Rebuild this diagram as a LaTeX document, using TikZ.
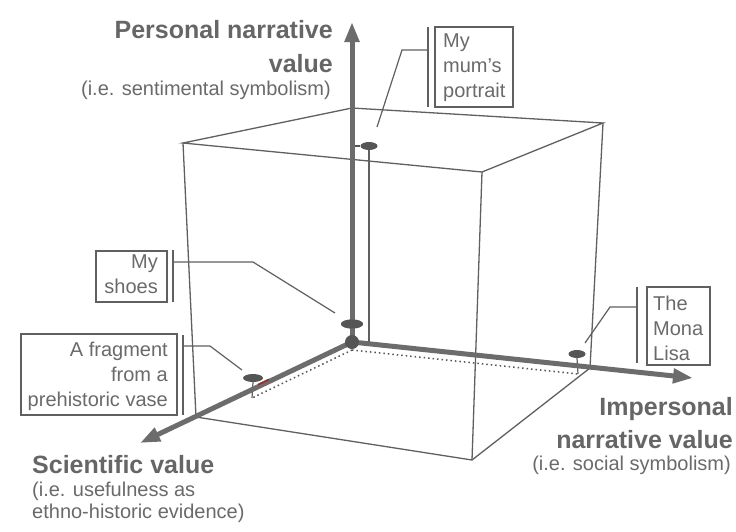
\documentclass[tikz,border=0pt]{standalone}
\usepackage{fontspec}
\setmainfont{Liberation Sans}
\usetikzlibrary{arrows.meta,shapes.geometric}
\definecolor{ink}{HTML}{606060}
\definecolor{txt}{HTML}{6A6A6A}
\definecolor{head}{HTML}{666666}
\definecolor{axisc}{HTML}{6C6C6C}
\definecolor{dotc}{HTML}{555555}
\begin{document}
\begin{tikzpicture}[x=1pt,y=-1pt,
  edge/.style={draw=ink,line width=1.3pt},
  thin/.style={draw=ink,line width=1.2pt},
  dotline/.style={draw=dotc,line width=1.5pt,dash pattern=on 1.5pt off 3pt},
  axisline/.style={draw=axisc,line width=5pt,-{Triangle[length=20pt,width=14pt]}},
  marker/.style={ellipse,fill=dotc,inner sep=0pt},
  boxst/.style={draw=ink,line width=1.3pt,inner sep=0pt},
  bar/.style={draw=ink,line width=1.4pt},
  boxtxt/.style={inner sep=0pt,text=txt,font=\fontsize{20}{25}\selectfont},
  headtxt/.style={inner sep=0pt,text=head,font=\fontsize{25}{33}\selectfont\bfseries},
  subtxt/.style={inner sep=0pt,text=txt,font=\fontsize{20}{22}\selectfont}
]
\useasboundingbox (0,0) rectangle (736,531);
\fill[white] (0,0) rectangle (736,531);

% cube corners
\coordinate (O) at (352,342);
\coordinate (Bt) at (352,108);
\coordinate (Lt) at (183,143);
\coordinate (Ft) at (482,172);
\coordinate (Rt) at (603,123);
\coordinate (Lb) at (196,417);
\coordinate (Fb) at (472,460);
\coordinate (Rb) at (590,368);
% axis tips
\coordinate (PT) at (352,22);
\coordinate (IT) at (693,378);
\coordinate (ST) at (140,443);

% cube
\draw[edge] (Lt) -- (Bt) -- (Rt) -- (Ft) -- cycle;
\draw[edge] (Lt) -- (Lb) -- (Fb) -- (Rb) -- (Rt);
\draw[edge] (Ft) -- (Fb);

% dotted projection lines
\coordinate (D0) at (352,350);
\coordinate (Dv) at (252,398);
\coordinate (Dm) at (578,374);
\draw[dotline] (D0) -- (Dv);
\draw[dotline] (D0) -- (Dm);

% markers
\node[marker,minimum width=17pt,minimum height=8pt] (mportrait) at (369,146) {};
\node[marker,minimum width=22pt,minimum height=9pt] (mshoes) at (352,324) {};
\node[marker,minimum width=20pt,minimum height=8pt] (mvase) at (253,378) {};
\node[marker,minimum width=17pt,minimum height=8pt] (mmona) at (577,354) {};

% drop lines
\coordinate (pdrop) at (369,343);
\draw[thin] (mportrait.south) -- (pdrop);
\draw[line width=1.6pt,draw=dotc] (352,146) -- (mportrait.west);
\draw[thin] (mvase.south) -- (Dv);
\draw[thin] (mmona.south) -- (Dm);

% axes
\draw[axisline] (O) -- (PT);
\draw[axisline] (O) -- (IT);
\draw[axisline] (O) -- (ST);
\draw[line width=1.8pt,draw=red!65!black,opacity=0.6] (258,384.5) -- (269,379.3);
\fill[dotc] (O) circle (7pt);
\node[marker,minimum width=22pt,minimum height=9pt] at (mshoes) {};

% boxes
\node[boxst,minimum width=78pt,minimum height=80pt] (bportrait) at (474,67) {};
\node[boxst,minimum width=71pt,minimum height=51pt] (bshoes) at (131.5,276.5) {};
\node[boxst,minimum width=156pt,minimum height=81pt] (bvase) at (99,374.5) {};
\node[boxst,minimum width=63pt,minimum height=78pt] (bmona) at (678.5,326) {};

% bars
\coordinate (pb1) at (428,27); \coordinate (pb2) at (428,107);
\coordinate (sb1) at (173,250); \coordinate (sb2) at (173,302);
\coordinate (vb1) at (183,335); \coordinate (vb2) at (183,415);
\coordinate (mb1) at (637,287); \coordinate (mb2) at (637,363);
\draw[bar] (pb1) -- (pb2);
\draw[bar] (sb1) -- (sb2);
\draw[bar] (vb1) -- (vb2);
\draw[bar] (mb1) -- (mb2);

% leaders
\coordinate (pl0) at (377,127); \coordinate (pl1) at (402,50); \coordinate (pl2) at (428,50);
\coordinate (sl0) at (335,313); \coordinate (sl1) at (253,262); \coordinate (sl2) at (173,262);
\coordinate (vl0) at (242,370); \coordinate (vl1) at (210,346); \coordinate (vl2) at (183,346);
\coordinate (ml0) at (585,343); \coordinate (ml1) at (610,307); \coordinate (ml2) at (637,307);
\draw[thin] (pl0) -- (pl1) -- (pl2);
\draw[thin] (sl0) -- (sl1) -- (sl2);
\draw[thin] (vl0) -- (vl1) -- (vl2);
\draw[thin] (ml0) -- (ml1) -- (ml2);

% box texts
\node[boxtxt,anchor=base west] (tportrait) at (443,47) {\begin{tabular}[t]{@{}l@{}}My\\mum's\\portrait\end{tabular}};
\node[boxtxt,anchor=base east] (tshoes) at (158,268) {\begin{tabular}[t]{@{}r@{}}My\\shoes\end{tabular}};
\node[boxtxt,anchor=base east] (tvase) at (168,356) {\begin{tabular}[t]{@{}r@{}}A fragment\\from a\\prehistoric vase\end{tabular}};
\node[boxtxt,anchor=base west] (tmona) at (653,310) {\begin{tabular}[t]{@{}l@{}}The\\Mona\\Lisa\end{tabular}};

% axis labels
\node[headtxt,anchor=base east] (hpers) at (333,38) {\begin{tabular}[t]{@{}r@{}}Personal narrative\\[1pt]value\end{tabular}};
\node[subtxt,anchor=base east] (spers) at (331,95) {(i.e. sentimental symbolism)};
\node[headtxt,anchor=base west] (hsci) at (32,473) {Scientific value};
\node[subtxt,anchor=base west] (ssci) at (32,496) {\begin{tabular}[t]{@{}l@{}}(i.e. usefulness as\\ethno-historic evidence)\end{tabular}};
\node[headtxt,anchor=base east] (himp) at (733,415) {\begin{tabular}[t]{@{}r@{}}Impersonal\\narrative value\end{tabular}};
\node[subtxt,anchor=base east] (simp) at (731,470) {(i.e. social symbolism)};
\end{tikzpicture}
\end{document}
